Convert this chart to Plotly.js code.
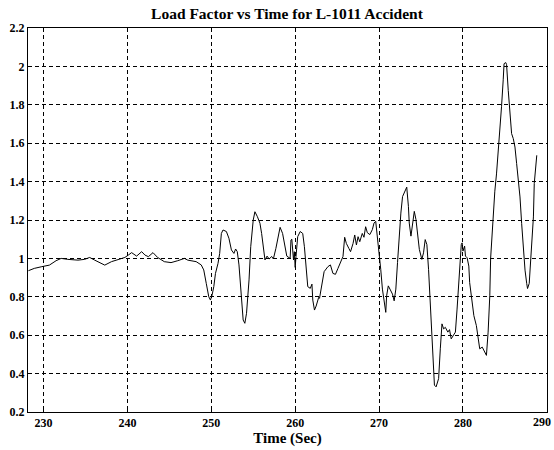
<!DOCTYPE html>
<html>
<head>
<meta charset="utf-8">
<script src="https://cdn.plot.ly/plotly-3.0.1.min.js"></script>
<style>
  html, body { margin: 0; padding: 0; background: #fff; }
  #chart { width: 554px; height: 450px; }
</style>
</head>
<body>
<div id="chart"></div>
<script>
// Flight time (s)
const timeSec = [
  228.2, 228.9, 229.8, 230.7, 231.5, 232.1, 232.9, 234.1, 234.9, 235.5,
  236.1, 236.9, 237.3, 238.1, 238.9, 239.7, 240.1, 240.5, 241.1, 241.7,
  242.1, 242.5, 243.05, 243.6, 244.4, 245.2, 246.0, 246.8, 247.2, 247.6,
  248.2, 248.8, 249.1, 249.4, 249.7, 249.9, 250.1, 250.3, 250.5, 250.8,
  251.0, 251.2, 251.4, 251.8, 252.1, 252.4, 252.7, 252.9, 253.1, 253.3,
  253.5, 253.7, 253.8, 254.0, 254.2, 254.5, 254.7, 255.0, 255.2, 255.5,
  255.8, 256.0, 256.2, 256.4, 256.65, 256.9, 257.2, 257.4, 257.7, 258.0,
  258.2, 258.5, 258.8, 259.0, 259.4, 259.5, 259.6, 259.8, 259.9, 260.0,
  260.1, 260.3, 260.6, 260.9, 261.1, 261.3, 261.5, 261.8, 262.0, 262.1,
  262.3, 262.5, 262.8, 262.9, 263.2, 263.45, 263.9, 264.2, 264.5, 264.8,
  265.1, 265.4, 265.7, 265.9, 266.1, 266.4, 266.6, 266.9, 267.1, 267.3,
  267.5, 267.7, 268.0, 268.2, 268.4, 268.6, 268.9, 269.2, 269.4, 269.6,
  269.8, 270.0, 270.2, 270.4, 270.6, 270.8, 270.9, 271.1, 271.3, 271.6,
  271.8, 272.0, 272.2, 272.4, 272.6, 272.8, 273.1, 273.3, 273.5, 273.6,
  273.8, 274.0, 274.2, 274.4, 274.6, 274.8, 275.1, 275.3, 275.5, 275.7,
  275.9, 276.1, 276.2, 276.4, 276.6, 276.8, 277.1, 277.3, 277.5, 277.7,
  277.9, 278.2, 278.4, 278.6, 278.8, 279.1, 279.3, 279.5, 279.7, 279.8,
  279.9, 280.0, 280.2, 280.3, 280.5, 280.7, 280.8, 281.1, 281.3, 281.6,
  281.8, 282.0, 282.3, 282.5, 282.7, 282.8, 283.0, 283.2, 283.3, 283.6,
  283.8, 284.0, 284.2, 284.4, 284.6, 284.8, 284.9, 285.1, 285.2, 285.4,
  285.6, 285.8, 286.0, 286.2, 286.4, 286.6, 286.8, 287.0, 287.2, 287.4,
  287.6, 287.7, 287.9, 288.0, 288.2, 288.4, 288.5, 288.7, 288.8
];

// Load factor (g)
const loadFactor = [
  0.936, 0.948, 0.957, 0.965, 0.988, 1.000, 0.995, 0.991, 0.995, 1.005,
  0.991, 0.974, 0.965, 0.983, 0.995, 1.005, 1.017, 1.030, 1.012, 1.035,
  1.017, 1.009, 1.030, 1.005, 0.983, 0.978, 0.988, 1.000, 0.991, 0.988,
  0.983, 0.966, 0.940, 0.870, 0.800, 0.783, 0.810, 0.853, 0.922, 0.974,
  1.026, 1.130, 1.148, 1.140, 1.105, 1.044, 1.026, 1.049, 1.035, 0.966,
  0.853, 0.749, 0.679, 0.662, 0.714, 0.888, 1.061, 1.200, 1.243, 1.217,
  1.183, 1.130, 1.061, 0.992, 1.012, 0.997, 1.010, 0.997, 1.052, 1.113,
  1.162, 1.130, 1.061, 1.012, 1.000, 1.096, 1.100, 0.992, 1.035, 0.953,
  1.010, 1.113, 1.140, 1.130, 1.061, 0.940, 0.853, 0.844, 0.866, 0.783,
  0.731, 0.752, 0.797, 0.792, 0.870, 0.931, 0.957, 0.966, 0.922, 0.917,
  0.948, 0.983, 1.010, 1.110, 1.078, 1.052, 1.035, 1.078, 1.122, 1.070,
  1.113, 1.087, 1.130, 1.110, 1.165, 1.134, 1.124, 1.150, 1.184, 1.193,
  1.116, 1.030, 0.943, 0.840, 0.771, 0.719, 0.805, 0.857, 0.840, 0.814,
  0.779, 0.840, 0.978, 1.116, 1.236, 1.322, 1.357, 1.371, 1.271, 1.184,
  1.116, 1.193, 1.245, 1.202, 1.116, 1.047, 0.995, 1.029, 1.098, 1.072,
  0.943, 0.771, 0.633, 0.460, 0.340, 0.331, 0.374, 0.529, 0.659, 0.633,
  0.641, 0.616, 0.629, 0.581, 0.598, 0.616, 0.736, 0.891, 1.029, 1.072,
  1.081, 1.038, 1.064, 1.012, 1.003, 0.960, 0.874, 0.771, 0.702, 0.650,
  0.581, 0.529, 0.538, 0.521, 0.503, 0.495, 0.616, 0.805, 1.000, 1.250,
  1.350, 1.440, 1.550, 1.667, 1.790, 1.930, 2.014, 2.020, 2.010, 1.875,
  1.754, 1.650, 1.624, 1.580, 1.494, 1.407, 1.320, 1.181, 1.043, 0.939,
  0.870, 0.843, 0.870, 0.939, 1.095, 1.216, 1.390, 1.494, 1.537
];

const xTicks = [230, 240, 250, 260, 270, 280, 290];
const yTicks = [0.2, 0.4, 0.6, 0.8, 1, 1.2, 1.4, 1.6, 1.8, 2, 2.2];

const serif = 'Liberation Serif, Times New Roman, serif';
const tickFont = { family: serif, size: 12, color: '#000', weight: 'bold' };

// The last x label sits on the right frame, so it is drawn as an
// annotation nudged left instead of as a regular tick label.
const lastTick = xTicks[xTicks.length - 1];
const xTickText = xTicks.map(v => (v === lastTick ? '' : String(v)));

const trace = {
  x: timeSec,
  y: loadFactor,
  type: 'scatter',
  mode: 'lines',
  line: { color: '#000', width: 1 },
  hoverinfo: 'x+y'
};

const axisCommon = {
  showline: true,
  linecolor: '#000',
  linewidth: 1,
  mirror: true,
  showgrid: true,
  gridcolor: '#000',
  gridwidth: 1,
  griddash: '4px,3px',
  zeroline: false,
  ticks: 'inside',
  ticklen: 4,
  tickcolor: '#000',
  tickfont: tickFont
};

const layout = {
  width: 554,
  height: 450,
  margin: { l: 28, r: 7, t: 28, b: 38 },
  paper_bgcolor: '#fff',
  plot_bgcolor: '#fff',
  showlegend: false,
  title: {
    text: 'Load Factor vs Time for L-1011 Accident',
    font: { family: serif, size: 15.5, color: '#000', weight: 'bold' },
    x: 0.518,
    xanchor: 'center',
    y: 0.969,
    yanchor: 'middle'
  },
  xaxis: Object.assign({}, axisCommon, {
    range: [228.15, 290.02],
    tickvals: xTicks,
    ticktext: xTickText,
    title: {
      text: 'Time (Sec)',
      font: { family: serif, size: 15, color: '#000', weight: 'bold' },
      standoff: 1
    }
  }),
  yaxis: Object.assign({}, axisCommon, {
    range: [0.2, 2.2],
    tickvals: yTicks,
    ticktext: yTicks.map(String)
  }),
  annotations: [{
    x: lastTick,
    xref: 'x',
    y: 0,
    yref: 'paper',
    text: String(lastTick),
    showarrow: false,
    xanchor: 'center',
    yanchor: 'top',
    xshift: -5,
    yshift: -2,
    borderpad: 0,
    font: tickFont
  }]
};

Plotly.newPlot('chart', [trace], layout, { displayModeBar: false, staticPlot: true });
</script>
</body>
</html>
